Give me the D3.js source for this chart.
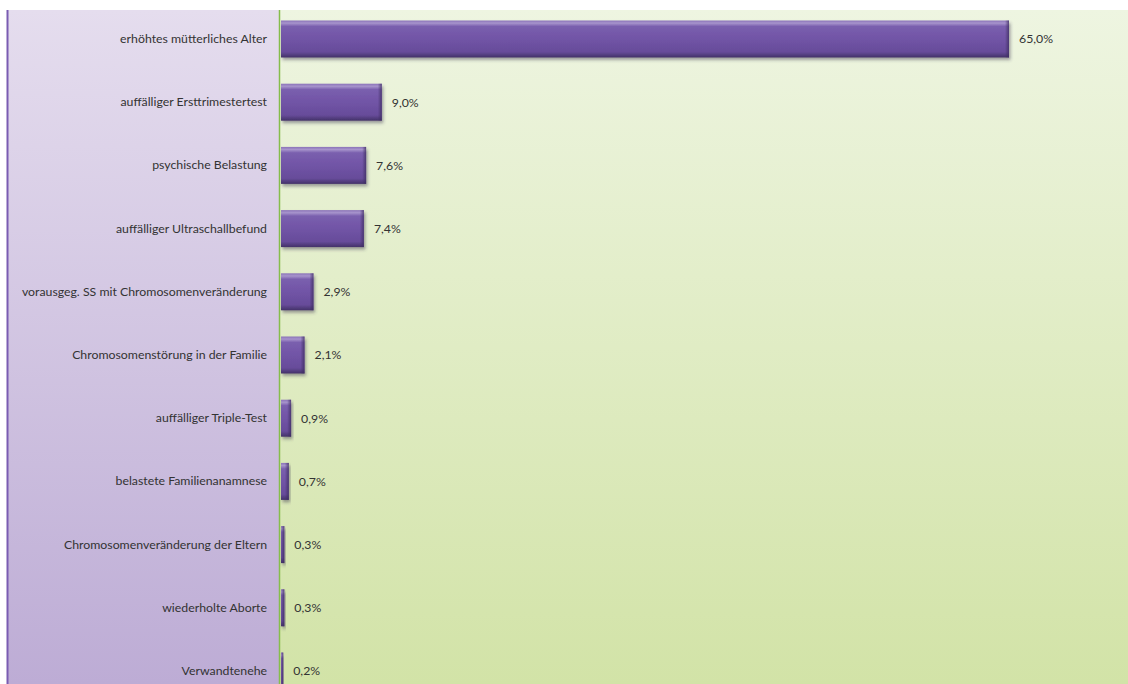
<!DOCTYPE html>
<html>
<head>
<meta charset="utf-8">
<script src="https://cdn.jsdelivr.net/npm/d3@7"></script>
<style>
  html, body { margin: 0; padding: 0; background: #ffffff; }
  svg { display: block; }
</style>
</head>
<body>
<svg id="chart" width="1128" height="684"></svg>
<script>
// Indikationen zur Pränataldiagnostik (Anteil in %)
const categories = [
  "erhöhtes mütterliches Alter",
  "auffälliger Ersttrimestertest",
  "psychische Belastung",
  "auffälliger Ultraschallbefund",
  "vorausgeg. SS mit Chromosomenveränderung",
  "Chromosomenstörung in der Familie",
  "auffälliger Triple-Test",
  "belastete Familienanamnese",
  "Chromosomenveränderung der Eltern",
  "wiederholte Aborte",
  "Verwandtenehe"
];
const values = [65.0, 9.0, 7.6, 7.4, 2.9, 2.1, 0.9, 0.7, 0.3, 0.3, 0.2];
const valueLabels = ["65,0%", "9,0%", "7,6%", "7,4%", "2,9%", "2,1%", "0,9%", "0,7%", "0,3%", "0,3%", "0,2%"];

const W = 1128, H = 684;
const panelLeft = 7, panelTop = 10, plotLeft = 280;

const svg = d3.select("#chart");
const defs = svg.append("defs");

// background gradients
const lav = defs.append("linearGradient").attr("id", "lavBg")
  .attr("x1", 0).attr("y1", 0).attr("x2", 0).attr("y2", 1);
lav.append("stop").attr("offset", "0%").attr("stop-color", "#e5ddee");
lav.append("stop").attr("offset", "100%").attr("stop-color", "#bdacd5");

const grn = defs.append("linearGradient").attr("id", "grnBg")
  .attr("x1", 0).attr("y1", 0).attr("x2", 0).attr("y2", 1);
grn.append("stop").attr("offset", "0%").attr("stop-color", "#eef5e1");
grn.append("stop").attr("offset", "100%").attr("stop-color", "#d2e3a7");

// bevelled bar fill
const barG = defs.append("linearGradient").attr("id", "barFill")
  .attr("x1", 0).attr("y1", 0).attr("x2", 0).attr("y2", 1);
[["0%", "#8a72b8"], ["7%", "#a794cc"], ["16%", "#7a5fae"], ["50%", "#7154a6"],
 ["85%", "#674c9a"], ["100%", "#433168"]].forEach(([o, c]) =>
  barG.append("stop").attr("offset", o).attr("stop-color", c));

const edgeG = defs.append("linearGradient").attr("id", "barEdge")
  .attr("x1", 0).attr("y1", 0).attr("x2", 1).attr("y2", 0);
edgeG.append("stop").attr("offset", "0%").attr("stop-color", "#3d2c60").attr("stop-opacity", 0);
edgeG.append("stop").attr("offset", "100%").attr("stop-color", "#3d2c60").attr("stop-opacity", 0.75);

const shadow = defs.append("filter").attr("id", "barShadow")
  .attr("x", "-10%").attr("y", "-20%").attr("width", "130%").attr("height", "160%");
shadow.append("feDropShadow").attr("dx", 1.5).attr("dy", 2.5).attr("stdDeviation", 1.6)
  .attr("flood-color", "#3a3050").attr("flood-opacity", 0.45);

// panels
svg.append("rect").attr("x", panelLeft).attr("y", panelTop)
  .attr("width", plotLeft - panelLeft).attr("height", H - panelTop)
  .attr("fill", "url(#lavBg)");
svg.append("rect").attr("x", plotLeft).attr("y", panelTop)
  .attr("width", W - plotLeft).attr("height", H - panelTop)
  .attr("fill", "url(#grnBg)");
svg.append("line").attr("x1", panelLeft + 0.5).attr("x2", panelLeft + 0.5)
  .attr("y1", panelTop).attr("y2", H)
  .attr("stroke", "#7a5cb2").attr("stroke-width", 2);

// scales
const x = d3.scaleLinear().domain([0, 65]).range([plotLeft, 1008]);
const y = d3.scaleBand().domain(categories).range([7.4, 702.6])
  .paddingInner(0.415).paddingOuter(0.2075);

// category axis
const yAxis = d3.axisLeft(y).tickSize(0).tickPadding(13);
const gy = svg.append("g").attr("transform", `translate(${plotLeft},0)`).call(yAxis);
gy.select(".domain").remove();
gy.selectAll("text")
  .attr("font-family", "Lato, 'Open Sans', sans-serif")
  .attr("font-size", "12.3px")
  .attr("fill", "#333333");

svg.append("line").attr("x1", plotLeft - 0.5).attr("x2", plotLeft - 0.5)
  .attr("y1", panelTop).attr("y2", H)
  .attr("stroke", "#86bd4c").attr("stroke-width", 1.5);

const data = categories.map((c, i) => ({ c, v: values[i], label: valueLabels[i] }));

const bars = svg.append("g").selectAll("g").data(data).join("g");
bars.append("rect")
  .attr("x", x(0) + 1)
  .attr("y", d => y(d.c))
  .attr("width", d => x(d.v) - x(0))
  .attr("height", y.bandwidth())
  .attr("fill", "url(#barFill)")
  .attr("filter", "url(#barShadow)");
bars.append("rect")
  .attr("x", d => x(0) + 1 + Math.max(0, x(d.v) - x(0) - 4))
  .attr("y", d => y(d.c))
  .attr("width", d => Math.min(4, x(d.v) - x(0)))
  .attr("height", y.bandwidth())
  .attr("fill", "url(#barEdge)");

// value labels
bars.append("text")
  .attr("x", d => x(d.v) + 11)
  .attr("y", d => y(d.c) + y.bandwidth() / 2)
  .attr("dy", "0.35em")
  .attr("font-family", "Lato, 'Open Sans', sans-serif")
  .attr("font-size", "12.3px")
  .attr("fill", "#333333")
  .text(d => d.label);
</script>
</body>
</html>
